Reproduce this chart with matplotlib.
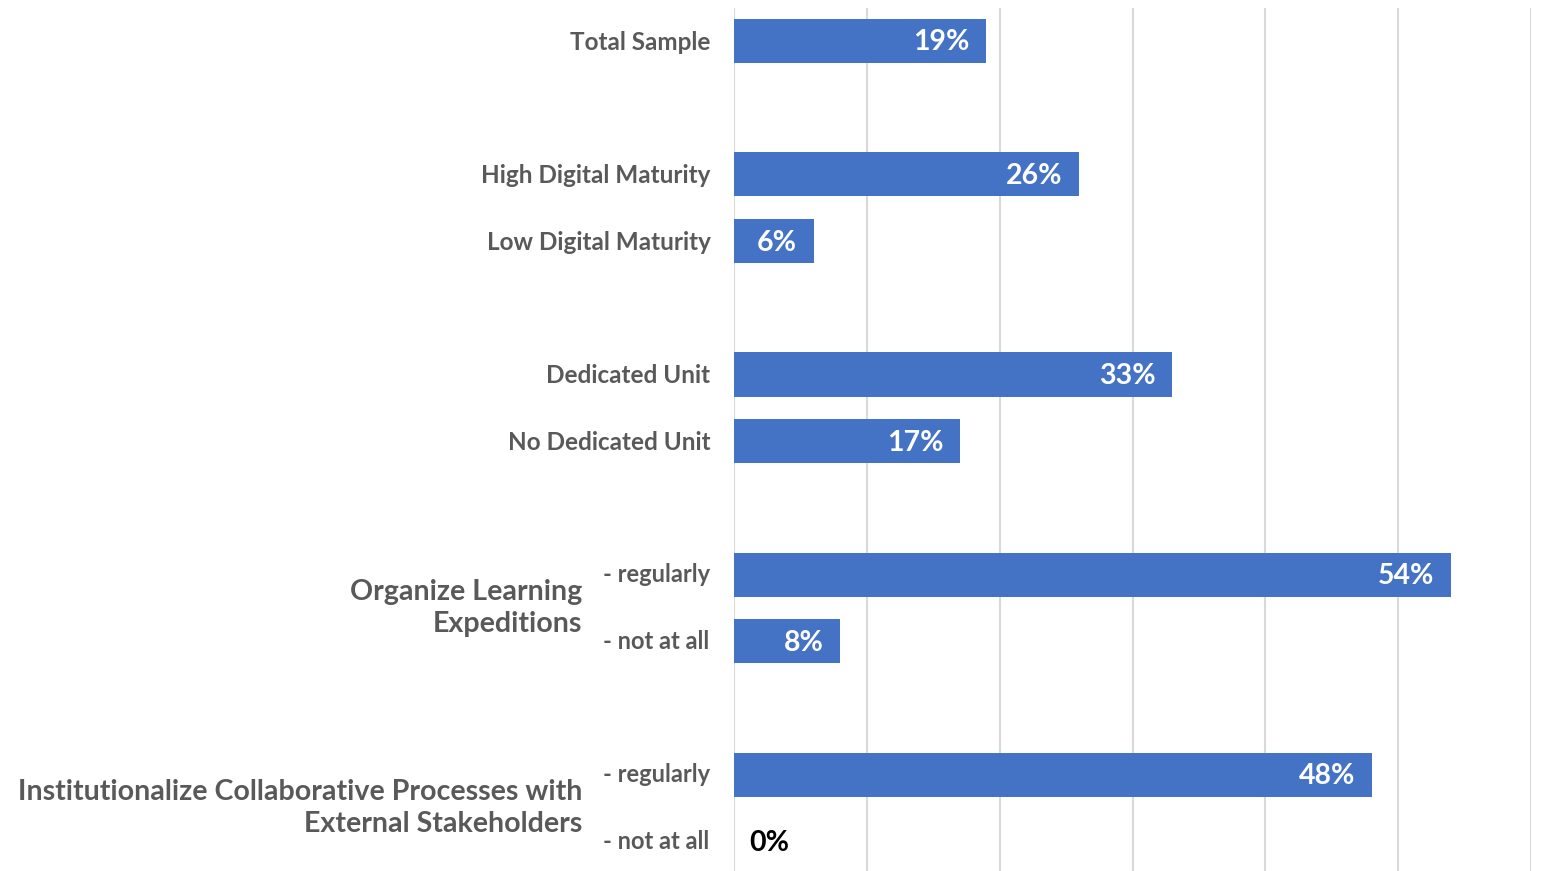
import matplotlib.pyplot as plt

# 数据
labels = ["Total Sample", "High Digital Maturity", "Low Digital Maturity",
          "Dedicated Unit", "No Dedicated Unit",
          "- regularly", "- not at all", "- regularly", "- not at all"]
values = [19, 26, 6, 33, 17, 54, 8, 48, 0]
rows = [0, 2, 3, 5, 6, 8, 9, 11, 12]
groups = ["Organize Learning\nExpeditions",
          "Institutionalize Collaborative Processes with\nExternal Stakeholders"]
group_rows = [8.5, 11.5]

plt.rcParams['font.family'] = ['Lato', 'DejaVu Sans']
grey = '#595959'

fig = plt.figure(figsize=(15.42, 8.71), dpi=100)
ax = fig.add_axes([734/1542, -3.7/871, (1531-734)/1542, 867/871])

ax.barh(rows, values, height=0.66, color='#4472C4', zorder=2)
ax.set_xlim(0, 60)
ax.set_ylim(12.5, -0.5)
ax.set_xticks(range(0, 61, 10))
ax.set_yticks([])
ax.tick_params(axis='x', length=0, labelbottom=False)
ax.grid(axis='x', color='#d9d9d9', linewidth=1.5, zorder=0)
for s in ax.spines.values():
    s.set_visible(False)

# 柱内数值
for r, v in zip(rows, values):
    if v > 0:
        ax.annotate(f"{v}%", (v, r), xytext=(-12, -1), textcoords='offset points',
                    ha='right', va='center', color='white', fontsize=20.5,
                    fontweight='bold')
    else:
        ax.annotate(f"{v}%", (v, r), xytext=(11, -1), textcoords='offset points',
                    ha='left', va='center', color='black', fontsize=20.5,
                    fontweight='bold')

# 类别标签
for r, lab in zip(rows, labels):
    if lab.startswith("-"):
        ax.annotate(lab, (0, r), xytext=(-94, 0), textcoords='offset points',
                    ha='left', va='center', color=grey, fontsize=17,
                    fontweight='bold')
    else:
        ax.annotate(lab, (0, r), xytext=(-17, -1), textcoords='offset points',
                    ha='right', va='center', color=grey, fontsize=17.5,
                    fontweight='bold')

for r, g in zip(group_rows, groups):
    ax.annotate(g, (0, r), xytext=(-109, 0), textcoords='offset points',
                ha='right', va='center', color=grey, fontsize=20.6,
                fontweight='bold', linespacing=1.25,
                multialignment='right')

fig.savefig('out.png', dpi=100)
